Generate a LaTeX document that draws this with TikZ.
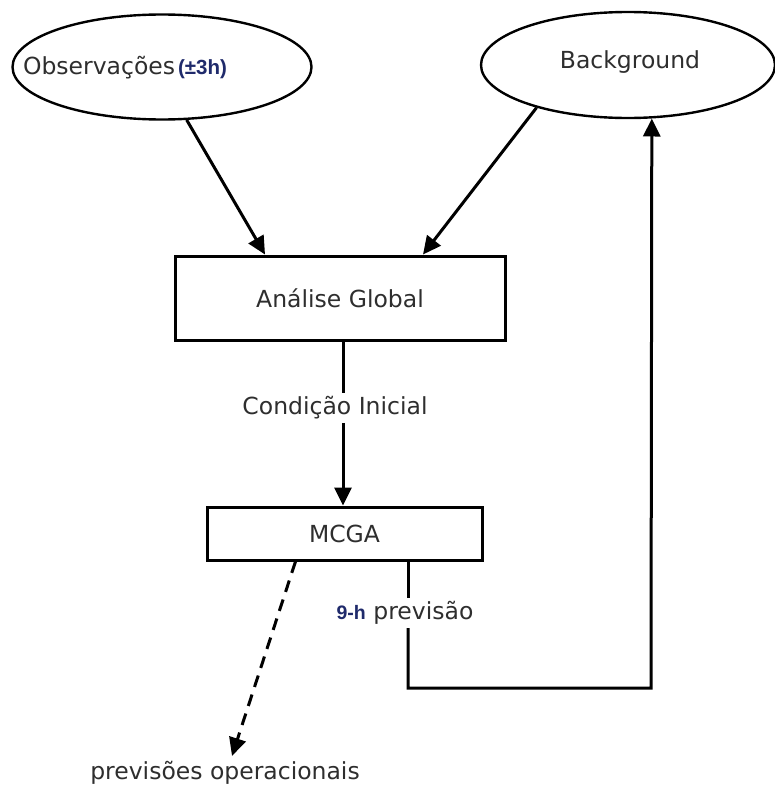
\documentclass[tikz,border=0pt]{standalone}
\usepackage{fontspec}
\setmainfont{DejaVu Sans}
\newfontfamily\navyfont{Liberation Sans}
\usetikzlibrary{arrows.meta,shapes.geometric,calc}
\definecolor{txt}{HTML}{2E2E2E}
\definecolor{navy}{HTML}{1F2A6B}
\begin{document}
\begin{tikzpicture}[x=1pt,y=-1pt,
  every node/.style={font=\fontsize{23.5}{27}\selectfont, text=txt},
  oval/.style={draw, ellipse, line width=2.4pt, inner sep=0pt},
  proc/.style={draw, rectangle, line width=3pt, inner sep=0pt},
  conn/.style={line width=3pt},
  arr/.style={conn, -{Triangle[length=18pt,width=17pt]}},
  dsh/.style={arr, dash pattern=on 12pt off 8pt},
  navytxt/.style={}]
\useasboundingbox (0,0) rectangle (775,787);
% ellipses
\node[oval, minimum width=299pt, minimum height=105pt] (obs) at (162,67) {};
\node (obstxt) at (125,68) {Observações\hspace{3pt}{\navyfont\bfseries\fontsize{20.5}{24}\selectfont\color{navy}(±3h)}};
\node[oval, minimum width=294pt, minimum height=106pt] (bg) at (628,65) {};
\node (bgtxt) at (630,62) {Background};
% boxes
\node[proc, minimum width=330pt, minimum height=84pt] (ana) at (340,298) {Análise Global};
\node (cond) at (335,408) {Condição Inicial};
\node[proc, minimum width=275pt, minimum height=53pt] (mcga) at (344.5,533.5) {MCGA};
\node (prev) at (405,613) {{\navyfont\bfseries\fontsize{19.5}{23}\selectfont\color{navy}9-h} previsão};
\node (ops) at (225,773) {previsões operacionais};
% helper coordinates
\coordinate (cx) at (343,0);
\coordinate (fx) at (408,0);
\coordinate (c1) at (408,688);
\coordinate (c2) at (651,688);
% connectors
\draw[arr] (obs.-65) -- ([xshift=-75pt]ana.north);
\draw[arr] (bg.205) -- ([xshift=83pt]ana.north);
\draw[conn] (ana.south -| cx) -- (cond.north -| cx);
\draw[arr] (cond.south -| cx) -- (mcga.north -| cx);
\draw[conn] (mcga.south -| fx) -- (prev.north -| fx);
\draw[arr] (prev.south -| fx) -- (c1) -- (c2) -- (bg.-66);
\draw[dsh] ([xshift=-49pt]mcga.south) -- ([xshift=7pt,yshift=2pt]ops.north);
\end{tikzpicture}
\end{document}
